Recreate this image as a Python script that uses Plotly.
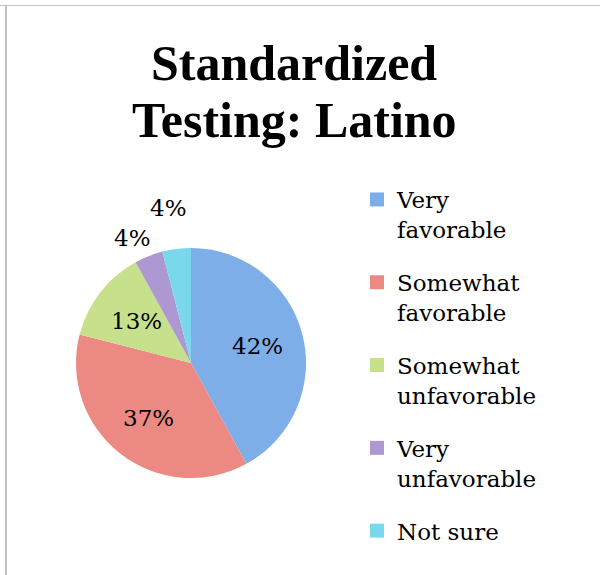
import math
import plotly.graph_objects as go

categories = ["Very favorable", "Somewhat favorable", "Somewhat unfavorable", "Very unfavorable", "Not sure"]
legend_labels = ["Very<br>favorable", "Somewhat<br>favorable", "Somewhat<br>unfavorable", "Very<br>unfavorable", "Not sure"]
values = [42, 37, 13, 4, 4]
colors = ["#7eaee8", "#ec8983", "#c6e08c", "#ae98d2", "#7ad8ec"]
label_outside = [False, False, False, True, True]

W, H = 600, 575
cx, cy, r = 191, 363, 115
LABEL_FONT = 23
LBL_W, LBL_H = 38, 24  # approx text box of a short outside label


def clamp(v):
    return max(-1.0, min(1.0, v))


fig = go.Figure()
fig.add_trace(go.Pie(
    labels=categories,
    values=values,
    sort=False,
    direction="clockwise",
    rotation=0,
    marker=dict(colors=colors, line=dict(width=0)),
    textinfo="none",
    showlegend=False,
    domain=dict(x=[(cx - r) / W, (cx + r) / W], y=[1 - (cy + r) / H, 1 - (cy - r) / H]),
    hoverinfo="label+percent",
))

# percentage labels, placed from slice mid-angles derived from the values
total = sum(values)
cum = 0
placed = []
for v, outside in zip(values, label_outside):
    mid = (cum + v / 2) / total
    cum += v
    theta = 2 * math.pi * mid
    dx, dy = math.sin(theta), -math.cos(theta)
    if outside:
        d = r + 6
        while True:
            px = cx + d * dx + LBL_W / 2 * clamp(2 * dx)
            py = cy + d * dy + LBL_H / 2 * clamp(2 * dy)
            box = (px - LBL_W / 2 - 3, px + LBL_W / 2 + 3, py - LBL_H / 2 - 3, py + LBL_H / 2 + 3)
            hit = any(not (box[1] < b[0] or box[0] > b[1] or box[3] < b[2] or box[2] > b[3]) for b in placed)
            if not hit:
                break
            d += 1
        placed.append(box)
    else:
        px = cx + 0.6 * r * dx
        py = cy + 0.6 * r * dy
    fig.add_annotation(text=f"{round(100 * v / total)}%", x=px / W, y=1 - py / H,
                       xref="paper", yref="paper", showarrow=False,
                       xanchor="center", yanchor="middle",
                       font=dict(family="DejaVu Serif", size=LABEL_FONT, color="black"))

for i, (lab, col) in enumerate(zip(legend_labels, colors)):
    fig.add_trace(go.Scatter(
        x=[None], y=[None], mode="markers",
        marker=dict(symbol="square", size=14, color=col),
        name=lab, legendgroup=f"g{i}", showlegend=True,
    ))

fig.add_annotation(text="<b>Standardized</b>", x=294 / W, y=1 - 63 / H, xref="paper", yref="paper",
                   showarrow=False, xanchor="center", yanchor="middle",
                   font=dict(family="Liberation Serif", size=50, color="black"))
fig.add_annotation(text="<b>Testing: Latino</b>", x=294 / W, y=1 - 120 / H, xref="paper", yref="paper",
                   showarrow=False, xanchor="center", yanchor="middle",
                   font=dict(family="Liberation Serif", size=50, color="black"))

fig.add_shape(type="line", xref="paper", yref="paper", x0=0, x1=1, y0=1 - 5.5 / H, y1=1 - 5.5 / H,
              line=dict(color="#c3c3c3", width=1))
fig.add_shape(type="line", xref="paper", yref="paper", x0=6 / W, x1=6 / W, y0=0, y1=1 - 5 / H,
              line=dict(color="#c3c3c3", width=2))

fig.update_layout(
    width=W, height=H,
    margin=dict(l=0, r=0, t=0, b=0),
    paper_bgcolor="white", plot_bgcolor="white",
    xaxis=dict(visible=False), yaxis=dict(visible=False),
    legend=dict(
        x=357 / W, y=1 - 178 / H, xanchor="left", yanchor="top",
        font=dict(family="DejaVu Serif", size=23, color="black"),
        valign="top", tracegroupgap=20, bgcolor="rgba(0,0,0,0)",
    ),
)

fig.write_html("out.html", config={"displayModeBar": False},
               post_script="document.body.style.margin='0px';")
